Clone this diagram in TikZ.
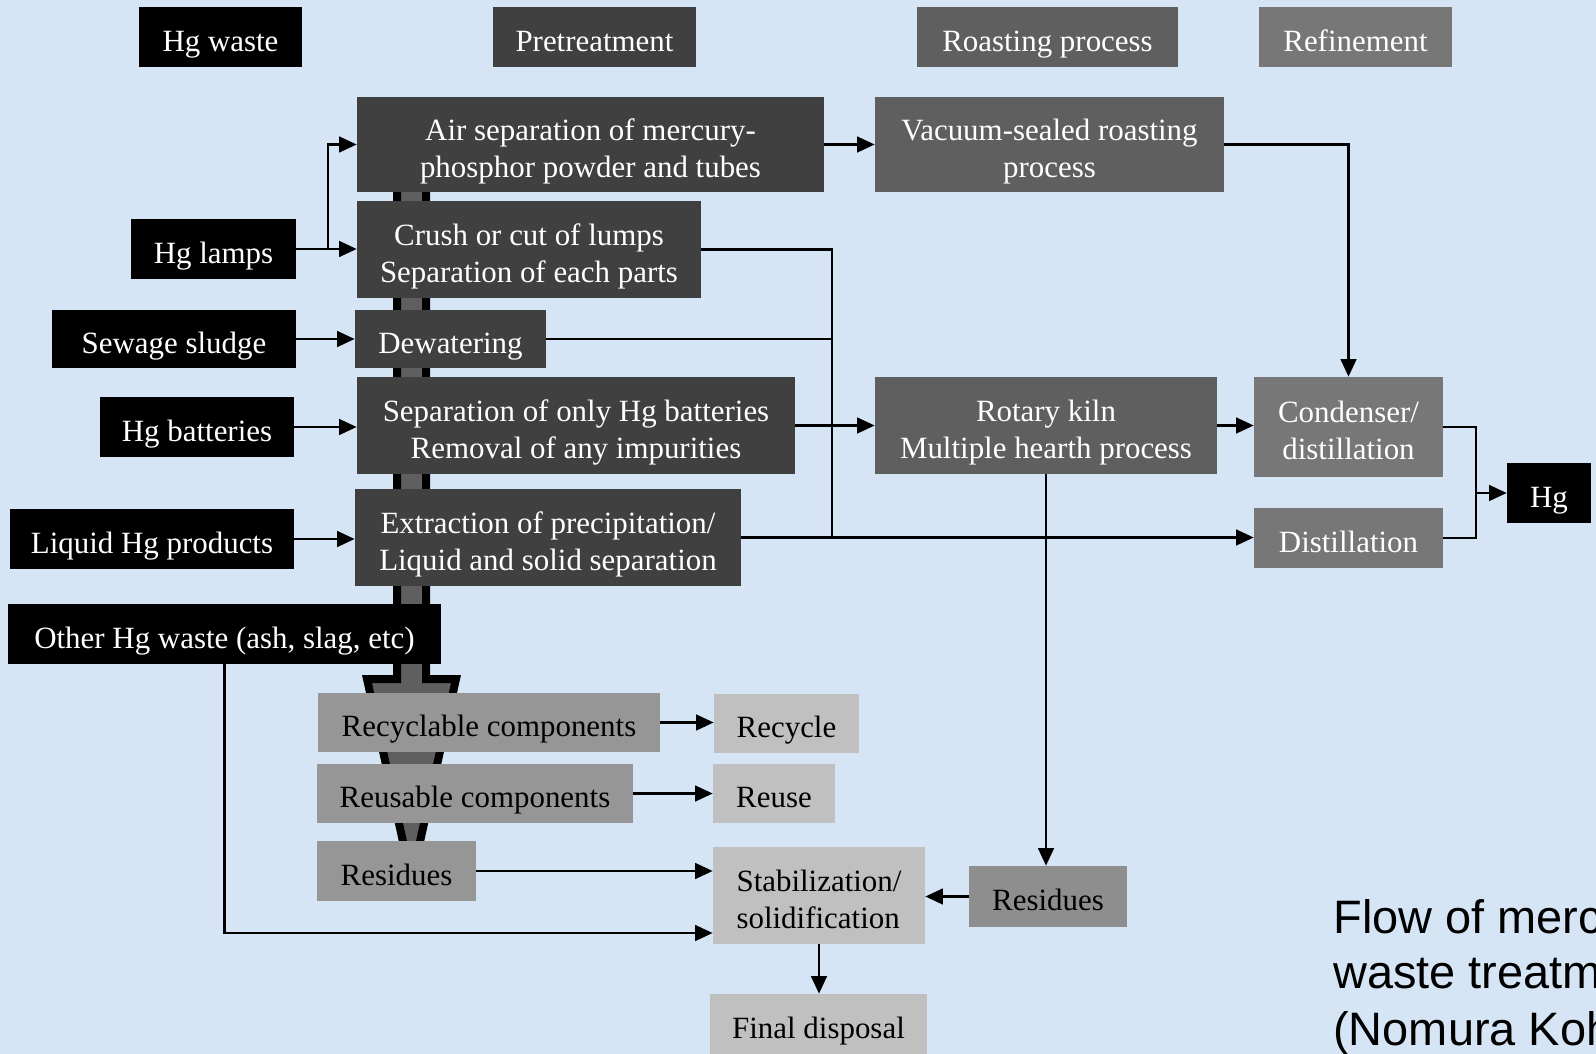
\documentclass[tikz,border=0pt]{standalone}
\usepackage{fontspec}
\setmainfont{Liberation Serif}
\newfontfamily\capfont{Liberation Sans}
\usepackage{tikz}
\usetikzlibrary{calc}
\usetikzlibrary{positioning}
\usetikzlibrary{arrows.meta}
\definecolor{bgblue}{RGB}{214,229,246}
\definecolor{pregray}{RGB}{64,64,64}
\definecolor{roastgray}{RGB}{95,95,95}
\definecolor{refgray}{RGB}{119,119,119}
\definecolor{compgray}{RGB}{150,150,150}
\definecolor{endgray}{RGB}{192,192,192}
\definecolor{resgray}{RGB}{142,142,142}
\definecolor{shaftgray}{RGB}{95,95,95}

\begin{document}
\begin{tikzpicture}[x=0.02cm, y=-0.02cm, >={Triangle[length=10pt,width=9pt]},
box/.style={rectangle, inner sep=0pt, align=center, text=white, text height=16pt, text depth=0pt, font=\fontsize{17.6}{21}\selectfont},
two/.style={text height=37pt},
sz/.style 2 args={minimum width=#1*0.02cm, minimum height=#2*0.02cm},
blk/.style={box, fill=black},
pre/.style={box, fill=pregray},
roast/.style={box, fill=roastgray},
refin/.style={box, fill=refgray},
comp/.style={box, fill=compgray, text=black},
fin/.style={box, fill=endgray, text=black},
link/.style={line width=1.2pt},
arr/.style={link, ->}]

\useasboundingbox (0,0) rectangle (1596,1054);
\fill[bgblue] (0,0) rectangle (1596,1054);

% big flow arrow behind the pretreatment column
\draw[line width=8*0.02cm, fill=shaftgray] (397,150) -- (397,679) -- (367,679) -- (411.5,880)
  -- (456,679) -- (426,679) -- (426,150) -- cycle;

% headers
\node[blk, sz={163}{60}] (hwaste) at (220.5,37) {Hg waste};
\node[pre, sz={203}{60}] (hpre) at (594.5,37) {Pretreatment};
\node[roast, sz={261}{60}] (hroast) at (1047.5,37) {Roasting process};
\node[refin, sz={193}{60}] (hrefine) at (1355.5,37) {Refinement};

% waste inputs
\node[blk, sz={165}{60}] (lamps) at (213.5,249) {Hg lamps};
\node[blk, sz={244}{58}] (sludge) at (174,339) {Sewage sludge};
\node[blk, sz={194}{60}] (batt) at (197,427) {Hg batteries};
\node[blk, sz={284}{60}] (liquid) at (152,539) {Liquid Hg products};
\node[blk, sz={433}{60}] (other) at (224.5,634) {Other Hg waste (ash, slag, etc)};

% pretreatment
\node[pre, two, sz={467}{95}] (air) at (590.5,144.5) {Air separation of mercury-\\phosphor powder and tubes};
\node[pre, two, sz={344}{97}] (crush) at (529,249.5) {Crush or cut of lumps\\Separation of each parts};
\node[pre, sz={191}{58}] (dewater) at (450.5,339) {Dewatering};
\node[pre, two, sz={438}{97}] (sepbatt) at (576,425.5) {Separation of only Hg batteries\\Removal of any impurities};
\node[pre, two, sz={386}{97}] (extract) at (548,537.5) {Extraction of precipitation/\\Liquid and solid separation};

% roasting
\node[roast, two, sz={349}{95}] (vacuum) at (1049.5,144.5) {Vacuum-sealed roasting\\process};
\node[roast, two, sz={342}{97}] (kiln) at (1046,425.5) {Rotary kiln\\Multiple hearth process};

% refinement
\node[refin, two, sz={189}{100}] (cond) at (1348.5,427) {Condenser/\\distillation};
\node[refin, sz={189}{60}] (distil) at (1348.5,538) {Distillation};
\node[blk, sz={84}{60}] (hg) at (1549,493) {Hg};

% outputs
\node[comp, sz={342}{59}] (recyc) at (489,722.5) {Recyclable components};
\node[fin, sz={145}{59}] (recycle) at (786.5,723.5) {Recycle};
\node[comp, sz={316}{59}] (reus) at (475,793.5) {Reusable components};
\node[fin, sz={122}{59}] (reuse) at (774,793.5) {Reuse};
\node[comp, sz={159}{60}] (resleft) at (396.5,871) {Residues};
\node[fin, two, sz={212}{97}, align=left] (stab) at (819,895.5) {Stabilization/\\solidification};
\node[fill=resgray, box, text=black, sz={158}{61}] (resright) at (1048,896.5) {Residues};
\node[fin, sz={217}{60}] (final) at (818.5,1024) {Final disposal};

% connectors
\coordinate (bus) at (832,538);
\draw[arr] (lamps.east) -- ++(32,0) |- (air.west);
\draw[arr] (lamps.east) -- (lamps.east -| crush.west);
\draw[arr] (sludge.east) -- (sludge.east -| dewater.west);
\draw[arr] (batt.east) -- (batt.east -| sepbatt.west);
\draw[arr] (liquid.east) -- (liquid.east -| extract.west);

\draw[arr] (air.east) -- (air.east -| vacuum.west);
\draw[arr] (vacuum.east) -| (cond.north);
\draw[link] (crush.east) -| (bus);
\draw[link] (dewater.east) -- (dewater.east -| bus);
\draw[arr] (extract.east) -- (extract.east -| distil.west);
\draw[arr] (sepbatt.east) -- (sepbatt.east -| kiln.west);
\draw[arr] (kiln.east) -- (kiln.east -| cond.west);
\draw[arr] (kiln.south) -- (kiln.south |- resright.north);

\draw[link] (cond.east) -- ++(33,0) coordinate (hgbus) |- (distil.east);
\draw[arr] (hgbus |- hg.west) -- (hg.west);

\draw[arr] (recyc.east) -- (recyc.east -| recycle.west);
\draw[arr] (reus.east) -- (reus.east -| reuse.west);
\draw[arr] (resleft.east) -- (resleft.east -| stab.west);
\draw[arr] (other.south) |- ($(stab.west)+(0,37.5)$);
\draw[arr] (resright.west) -- (resright.west -| stab.east);
\draw[arr] (stab.south) -- (stab.south |- final.north);

% caption, cut at the right edge
\begin{scope}
\clip (0,0) rectangle (1596,1054);
\node[anchor=base west, inner sep=0pt, font=\capfont\fontsize{26.7}{32}\selectfont] (cap1) at (1333,933) {Flow of merc};
\node[anchor=base west, inner sep=0pt, font=\capfont\fontsize{26.7}{32}\selectfont] (cap2) at (1333,988) {waste treatm};
\node[anchor=base west, inner sep=0pt, font=\capfont\fontsize{26.7}{32}\selectfont] (cap3) at (1333,1045) {(Nomura Koh};
\end{scope}
\end{tikzpicture}
\end{document}
